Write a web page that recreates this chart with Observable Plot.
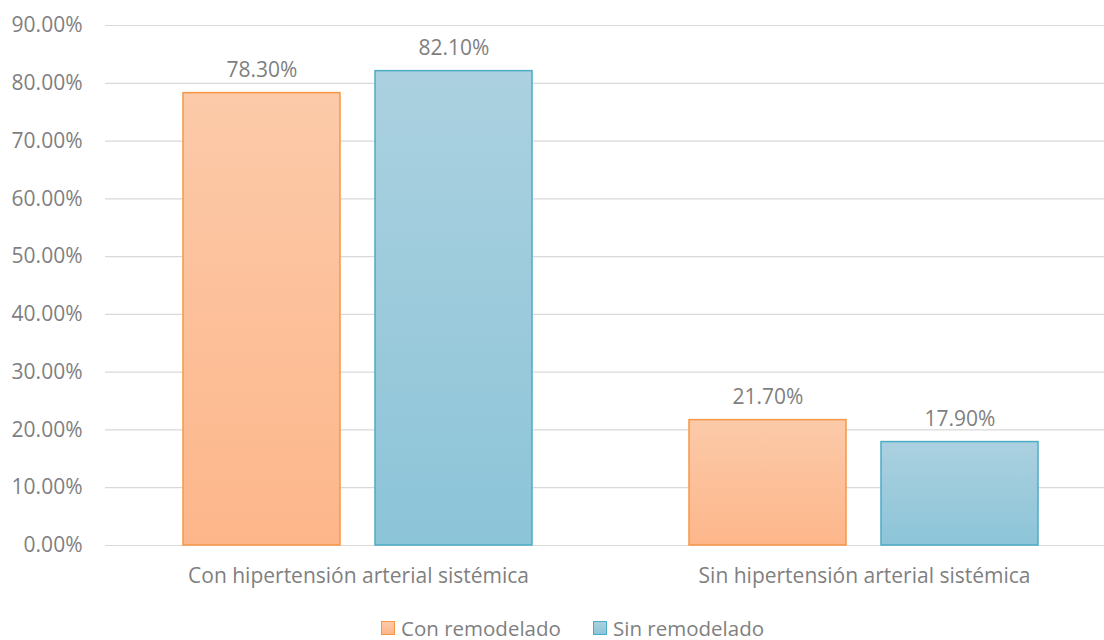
<!DOCTYPE html>
<html>
<head>
<meta charset="utf-8">
<script src="https://cdn.jsdelivr.net/npm/d3@7"></script>
<script src="https://cdn.jsdelivr.net/npm/@observablehq/plot@0.6"></script>
<style>
  html, body { margin: 0; padding: 0; background: #fff; }
  body { width: 1104px; height: 640px; overflow: hidden; font-family: "Open Sans", sans-serif; }
  #legend { position: relative; height: 50px; }
  .item { position: absolute; top: 27px; height: 22px; line-height: 22px; display: flex; align-items: center; font-size: 20.5px; color: #7f7f7f; }
  .sw { width: 14px; height: 14px; margin-right: 6px; box-sizing: border-box; }
</style>
</head>
<body>
<div id="chart"></div>
<div id="legend"></div>
<script>
const categories = ["Con hipertensión arterial sistémica", "Sin hipertensión arterial sistémica"];
const series = ["Con remodelado", "Sin remodelado"];
const conRemodelado = [0.783, 0.217];
const sinRemodelado = [0.821, 0.179];
const yTicks = [0, 0.1, 0.2, 0.3, 0.4, 0.5, 0.6, 0.7, 0.8, 0.9];

const data = [];
categories.forEach((c, i) => {
  data.push({category: c, series: series[0], value: conRemodelado[i]});
  data.push({category: c, series: series[1], value: sinRemodelado[i]});
});

const fills = {"Con remodelado": "url(#gradOrange)", "Sin remodelado": "url(#gradBlue)"};
const strokes = {"Con remodelado": "#F79646", "Sin remodelado": "#4BACC6"};
const pct = d3.format(".2%");

const chart = Plot.plot({
  width: 1104,
  height: 590,
  marginLeft: 105,
  marginRight: 0,
  marginTop: 25,
  marginBottom: 45,
  style: {fontFamily: "'Open Sans', sans-serif", fontSize: "21px", color: "#7f7f7f", background: "#fff"},
  fx: {domain: categories, range: [105, 1117], padding: 0, label: null, axis: "bottom", tickSize: 0, tickPadding: 23},
  x: {domain: series, paddingInner: 0.181, paddingOuter: 0.4015, axis: null},
  y: {domain: [0, 0.9], range: [545, 25], ticks: yTicks, tickFormat: pct, tickSize: 0, tickPadding: 23, label: null},
  marks: [
    Plot.ruleY(yTicks, {stroke: "#d9d9d9", strokeWidth: 1.2}),
    Plot.barY(data, {
      fx: "category", x: "series", y: "value",
      fill: d => fills[d.series], stroke: d => strokes[d.series], strokeWidth: 1.5
    }),
    Plot.text(data, {
      fx: "category", x: "series", y: "value", text: d => pct(d.value),
      dy: -16, lineAnchor: "bottom", fill: "#7f7f7f", fontSize: 21
    })
  ]
});

// gradient definitions
const ns = "http://www.w3.org/2000/svg";
const defs = document.createElementNS(ns, "defs");
function grad(id, top, bottom) {
  const g = document.createElementNS(ns, "linearGradient");
  g.setAttribute("id", id);
  g.setAttribute("x1", "0"); g.setAttribute("y1", "0");
  g.setAttribute("x2", "0"); g.setAttribute("y2", "1");
  [[0, top], [1, bottom]].forEach(([o, c]) => {
    const s = document.createElementNS(ns, "stop");
    s.setAttribute("offset", o);
    s.setAttribute("stop-color", c);
    g.appendChild(s);
  });
  defs.appendChild(g);
}
grad("gradOrange", "#FCCAA9", "#FDB68A");
grad("gradBlue", "#ABD1E0", "#8CC4D8");
chart.insertBefore(defs, chart.firstChild);

document.getElementById("chart").appendChild(chart);

// legend
const legend = document.getElementById("legend");
const legendPos = [381, 593];
const legendTop = ["#FCCAA9", "#ABD1E0"];
const legendBot = ["#FDB68A", "#8CC4D8"];
series.forEach((s, i) => {
  const item = document.createElement("div");
  item.className = "item";
  item.style.left = legendPos[i] + "px";
  const sw = document.createElement("div");
  sw.className = "sw";
  sw.style.background = `linear-gradient(${legendTop[i]}, ${legendBot[i]})`;
  sw.style.border = `1.5px solid ${strokes[s]}`;
  item.appendChild(sw);
  const t = document.createElement("span");
  t.textContent = s;
  item.appendChild(t);
  legend.appendChild(item);
});
</script>
</body>
</html>
